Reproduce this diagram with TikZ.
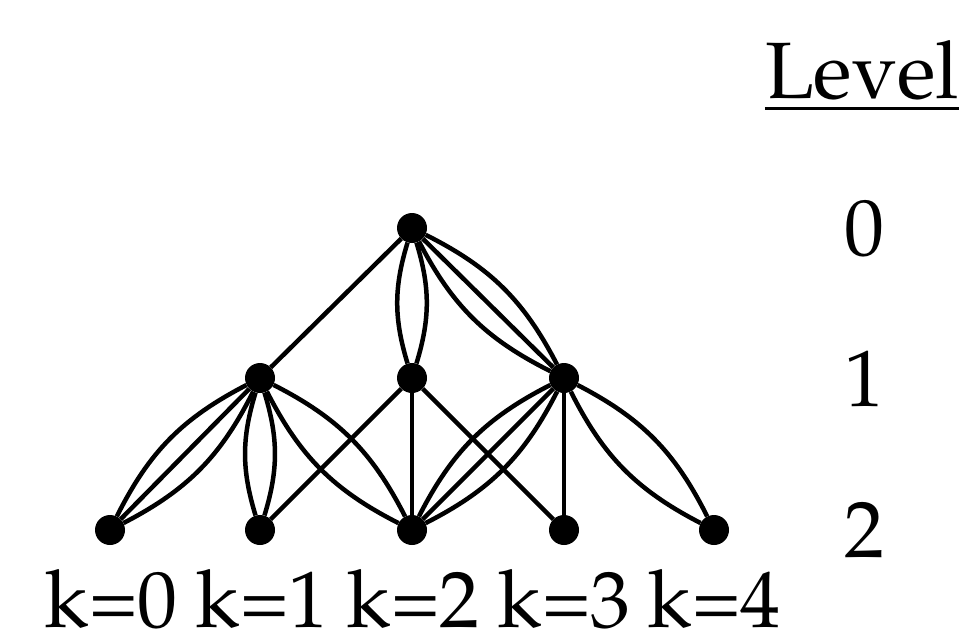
\documentclass[tikz,border=0pt]{standalone}
\usepackage[T1]{fontenc}
\usepackage{mathpazo}
\tikzset{
  vtx/.style={circle, fill=black, minimum size=30pt, inner sep=0pt},
  edge/.style={line width=4.5pt, black},
  lbl/.style={inner sep=0pt, font=\fontsize{80}{96}\selectfont},
}
\begin{document}
\begin{tikzpicture}[x=1pt, y=-1pt]
\useasboundingbox (0,0) rectangle (961,641);

% vertices by level
\node[vtx] (t)  at (412,228) {};
\node[vtx] (l)  at (260,378) {};
\node[vtx] (m)  at (412,378) {};
\node[vtx] (r)  at (564,378) {};
\node[vtx] (b0) at (110,530) {};
\node[vtx] (b1) at (260,530) {};
\node[vtx] (b2) at (412,530) {};
\node[vtx] (b3) at (564,530) {};
\node[vtx] (b4) at (714,530) {};

\begin{scope}[edge]
% level 0 to level 1
\draw (t) -- (l);
\draw (t) to[bend left=17] (m);
\draw (t) to[bend right=17] (m);
\draw (t) -- (r);
\draw (t) to[bend left=18] (r);
\draw (t) to[bend right=18] (r);

% level 1 to level 2
\draw (l) -- (b0);
\draw (l) to[bend left=18] (b0);
\draw (l) to[bend right=18] (b0);
\draw (l) to[bend left=17] (b1);
\draw (l) to[bend right=17] (b1);
\draw (l) to[bend left=18] (b2);
\draw (l) to[bend right=18] (b2);
\draw (m) -- (b1);
\draw (m) -- (b2);
\draw (m) -- (b3);
\draw (r) -- (b2);
\draw (r) to[bend left=18] (b2);
\draw (r) to[bend right=18] (b2);
\draw (r) -- (b3);
\draw (r) to[bend left=18] (b4);
\draw (r) to[bend right=18] (b4);
\end{scope}

% level column
\node[lbl, anchor=base] (lvl) at (862,98) {Level};
\draw[line width=3pt] (lvl.west |- 0,108) -- (lvl.east |- 0,108);
\node[lbl, anchor=base] (n0) at (864,255) {0};
\node[lbl, anchor=base] (n1) at (864,406) {1};
\node[lbl, anchor=base] (n2) at (864,557) {2};

% index labels under the bottom row
\node[lbl, anchor=base] (k0) at (111,627) {k=0};
\node[lbl, anchor=base] (k1) at (262,627) {k=1};
\node[lbl, anchor=base] (k2) at (413,627) {k=2};
\node[lbl, anchor=base] (k3) at (564,627) {k=3};
\node[lbl, anchor=base] (k4) at (714,627) {k=4};
\end{tikzpicture}
\end{document}
